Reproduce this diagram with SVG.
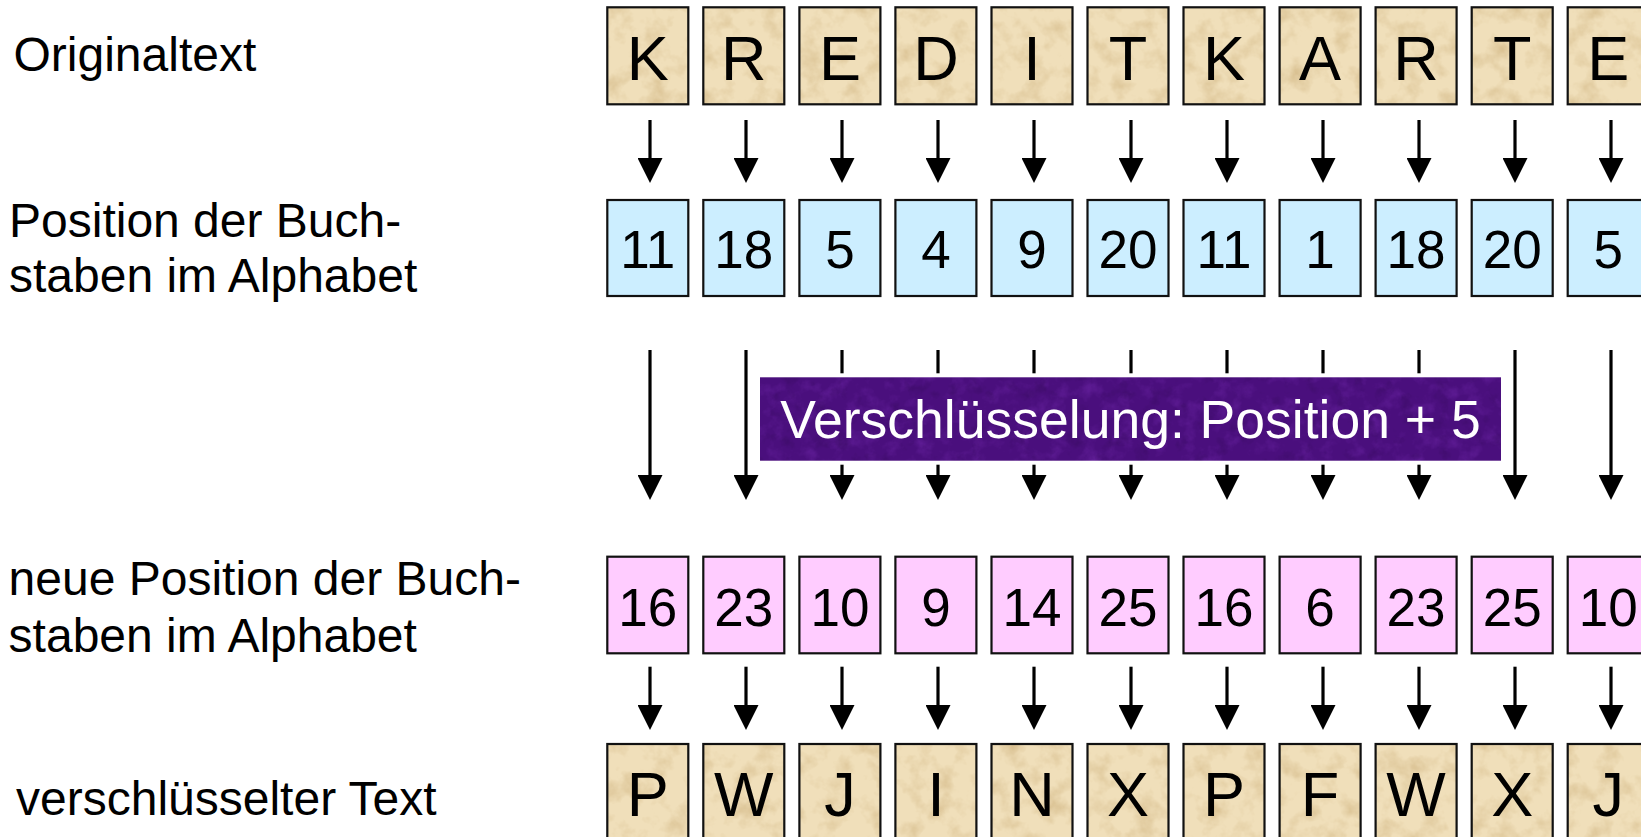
<svg xmlns="http://www.w3.org/2000/svg" width="1641" height="837" viewBox="0 0 1641 837">
<defs>
<style>
.lbl{font-family:"Liberation Sans",Arial,sans-serif;font-size:48px;fill:#000}
.big{font-family:"Liberation Sans",Arial,sans-serif;font-size:63px;fill:#000;text-anchor:middle}
.num{font-family:"Liberation Sans",Arial,sans-serif;font-size:53px;fill:#000;text-anchor:middle}
.tan{fill:#f0dfba;filter:url(#paper)}
.blue{fill:#cceeff}
.pink{fill:#ffccff}
.ol{fill:none;stroke:#111;stroke-width:2.2}
.arr{stroke:#000;stroke-width:3.2;fill:none;marker-end:url(#ah)}
.cap{font-family:"Liberation Sans",Arial,sans-serif;font-size:53.5px;fill:#fff;text-anchor:middle}
</style>
<marker id="ah" markerUnits="userSpaceOnUse" viewBox="0 0 25 25" refX="0.5" refY="12.5" markerWidth="25" markerHeight="25" orient="auto">
<path d="M0,0 L25,12.5 L0,25 z" fill="#000"/>
</marker>
<filter id="paper" x="0" y="0" width="100%" height="100%" color-interpolation-filters="sRGB">
<feTurbulence type="fractalNoise" baseFrequency="0.045" numOctaves="4" seed="7" result="n"/>
<feColorMatrix in="n" type="matrix" values="0 0 0 0 0.84  0 0 0 0 0.74  0 0 0 0 0.55  1.8 0 0 0 -0.82" result="spots"/>
<feComposite in="spots" in2="SourceGraphic" operator="atop"/>
</filter>
<filter id="velvet" x="0" y="0" width="100%" height="100%" color-interpolation-filters="sRGB">
<feTurbulence type="fractalNoise" baseFrequency="0.06" numOctaves="4" seed="11" result="n"/>
<feColorMatrix in="n" type="matrix" values="0 0 0 0 0.40  0 0 0 0 0.13  0 0 0 0 0.62  1.6 0 0 0 -0.78" result="light"/>
<feColorMatrix in="n" type="matrix" values="0 0 0 0 0.22  0 0 0 0 0.04  0 0 0 0 0.38  0 -1.6 0 0 0.7" result="dark"/>
<feComposite in="light" in2="SourceGraphic" operator="atop" result="a"/>
<feComposite in="dark" in2="a" operator="atop"/>
</filter>
</defs>
<rect x="0" y="0" width="1641" height="837" fill="#fff"/>

<g id="labels">
<text id="lbl-original" class="lbl" x="13.5" y="70.7">Originaltext</text>
<text id="lbl-position" class="lbl" x="9"><tspan x="9" y="236.7">Position der Buch-</tspan><tspan x="9" y="291.7">staben im Alphabet</tspan></text>
<text id="lbl-newpos" class="lbl" x="8.6"><tspan x="8.6" y="595">neue Position der Buch-</tspan><tspan x="8.6" y="651.7">staben im Alphabet</tspan></text>
<text id="lbl-cipher" class="lbl" x="16" y="815">verschlüsselter Text</text>
</g>

<g id="connectors">
<line class="arr" x1="650" y1="120" x2="650" y2="158.5"/>
<line class="arr" x1="746" y1="120" x2="746" y2="158.5"/>
<line class="arr" x1="842" y1="120" x2="842" y2="158.5"/>
<line class="arr" x1="938" y1="120" x2="938" y2="158.5"/>
<line class="arr" x1="1034" y1="120" x2="1034" y2="158.5"/>
<line class="arr" x1="1131" y1="120" x2="1131" y2="158.5"/>
<line class="arr" x1="1227" y1="120" x2="1227" y2="158.5"/>
<line class="arr" x1="1323" y1="120" x2="1323" y2="158.5"/>
<line class="arr" x1="1419" y1="120" x2="1419" y2="158.5"/>
<line class="arr" x1="1515" y1="120" x2="1515" y2="158.5"/>
<line class="arr" x1="1611" y1="120" x2="1611" y2="158.5"/>

<line class="arr" x1="650" y1="350" x2="650" y2="475.5"/>
<line class="arr" x1="746" y1="350" x2="746" y2="475.5"/>
<line class="arr" x1="842" y1="350" x2="842" y2="475.5"/>
<line class="arr" x1="938" y1="350" x2="938" y2="475.5"/>
<line class="arr" x1="1034" y1="350" x2="1034" y2="475.5"/>
<line class="arr" x1="1131" y1="350" x2="1131" y2="475.5"/>
<line class="arr" x1="1227" y1="350" x2="1227" y2="475.5"/>
<line class="arr" x1="1323" y1="350" x2="1323" y2="475.5"/>
<line class="arr" x1="1419" y1="350" x2="1419" y2="475.5"/>
<line class="arr" x1="1515" y1="350" x2="1515" y2="475.5"/>
<line class="arr" x1="1611" y1="350" x2="1611" y2="475.5"/>

<line class="arr" x1="650" y1="666.7" x2="650" y2="705.5"/>
<line class="arr" x1="746" y1="666.7" x2="746" y2="705.5"/>
<line class="arr" x1="842" y1="666.7" x2="842" y2="705.5"/>
<line class="arr" x1="938" y1="666.7" x2="938" y2="705.5"/>
<line class="arr" x1="1034" y1="666.7" x2="1034" y2="705.5"/>
<line class="arr" x1="1131" y1="666.7" x2="1131" y2="705.5"/>
<line class="arr" x1="1227" y1="666.7" x2="1227" y2="705.5"/>
<line class="arr" x1="1323" y1="666.7" x2="1323" y2="705.5"/>
<line class="arr" x1="1419" y1="666.7" x2="1419" y2="705.5"/>
<line class="arr" x1="1515" y1="666.7" x2="1515" y2="705.5"/>
<line class="arr" x1="1611" y1="666.7" x2="1611" y2="705.5"/>
</g>

<g id="row-original">
<g id="o0"><rect class="tan" x="607.3" y="7.3" width="81" height="97"/><rect class="ol" x="607.3" y="7.3" width="81" height="97"/><text class="big" x="647.8" y="80">K</text></g>
<g id="o1"><rect class="tan" x="703.3" y="7.3" width="81" height="97"/><rect class="ol" x="703.3" y="7.3" width="81" height="97"/><text class="big" x="743.8" y="80">R</text></g>
<g id="o2"><rect class="tan" x="799.4" y="7.3" width="81" height="97"/><rect class="ol" x="799.4" y="7.3" width="81" height="97"/><text class="big" x="839.9" y="80">E</text></g>
<g id="o3"><rect class="tan" x="895.4" y="7.3" width="81" height="97"/><rect class="ol" x="895.4" y="7.3" width="81" height="97"/><text class="big" x="935.9" y="80">D</text></g>
<g id="o4"><rect class="tan" x="991.5" y="7.3" width="81" height="97"/><rect class="ol" x="991.5" y="7.3" width="81" height="97"/><text class="big" x="1032" y="80">I</text></g>
<g id="o5"><rect class="tan" x="1087.5" y="7.3" width="81" height="97"/><rect class="ol" x="1087.5" y="7.3" width="81" height="97"/><text class="big" x="1128" y="80">T</text></g>
<g id="o6"><rect class="tan" x="1183.5" y="7.3" width="81" height="97"/><rect class="ol" x="1183.5" y="7.3" width="81" height="97"/><text class="big" x="1224" y="80">K</text></g>
<g id="o7"><rect class="tan" x="1279.6" y="7.3" width="81" height="97"/><rect class="ol" x="1279.6" y="7.3" width="81" height="97"/><text class="big" x="1320.1" y="80">A</text></g>
<g id="o8"><rect class="tan" x="1375.6" y="7.3" width="81" height="97"/><rect class="ol" x="1375.6" y="7.3" width="81" height="97"/><text class="big" x="1416.1" y="80">R</text></g>
<g id="o9"><rect class="tan" x="1471.7" y="7.3" width="81" height="97"/><rect class="ol" x="1471.7" y="7.3" width="81" height="97"/><text class="big" x="1512.2" y="80">T</text></g>
<g id="o10"><rect class="tan" x="1567.7" y="7.3" width="81" height="97"/><rect class="ol" x="1567.7" y="7.3" width="81" height="97"/><text class="big" x="1608.2" y="80">E</text></g>
</g>

<g id="row-position">
<g id="p0"><rect class="blue" x="607.3" y="200" width="81" height="96"/><rect class="ol" x="607.3" y="200" width="81" height="96"/><text class="num" x="647.8" y="268">11</text></g>
<g id="p1"><rect class="blue" x="703.3" y="200" width="81" height="96"/><rect class="ol" x="703.3" y="200" width="81" height="96"/><text class="num" x="743.8" y="268">18</text></g>
<g id="p2"><rect class="blue" x="799.4" y="200" width="81" height="96"/><rect class="ol" x="799.4" y="200" width="81" height="96"/><text class="num" x="839.9" y="268">5</text></g>
<g id="p3"><rect class="blue" x="895.4" y="200" width="81" height="96"/><rect class="ol" x="895.4" y="200" width="81" height="96"/><text class="num" x="935.9" y="268">4</text></g>
<g id="p4"><rect class="blue" x="991.5" y="200" width="81" height="96"/><rect class="ol" x="991.5" y="200" width="81" height="96"/><text class="num" x="1032" y="268">9</text></g>
<g id="p5"><rect class="blue" x="1087.5" y="200" width="81" height="96"/><rect class="ol" x="1087.5" y="200" width="81" height="96"/><text class="num" x="1128" y="268">20</text></g>
<g id="p6"><rect class="blue" x="1183.5" y="200" width="81" height="96"/><rect class="ol" x="1183.5" y="200" width="81" height="96"/><text class="num" x="1224" y="268">11</text></g>
<g id="p7"><rect class="blue" x="1279.6" y="200" width="81" height="96"/><rect class="ol" x="1279.6" y="200" width="81" height="96"/><text class="num" x="1320.1" y="268">1</text></g>
<g id="p8"><rect class="blue" x="1375.6" y="200" width="81" height="96"/><rect class="ol" x="1375.6" y="200" width="81" height="96"/><text class="num" x="1416.1" y="268">18</text></g>
<g id="p9"><rect class="blue" x="1471.7" y="200" width="81" height="96"/><rect class="ol" x="1471.7" y="200" width="81" height="96"/><text class="num" x="1512.2" y="268">20</text></g>
<g id="p10"><rect class="blue" x="1567.7" y="200" width="81" height="96"/><rect class="ol" x="1567.7" y="200" width="81" height="96"/><text class="num" x="1608.2" y="268">5</text></g>
</g>

<g id="shift-box">
<rect x="756" y="373.3" width="749" height="91.4" fill="#fff"/>
<rect x="760" y="377.3" width="741" height="83.4" fill="#4a0f7d" filter="url(#velvet)"/>
<text class="cap" x="1130.5" y="438.3">Verschlüsselung: Position + 5</text>
</g>

<g id="row-newpos">
<g id="n0"><rect class="pink" x="607.3" y="556.7" width="81" height="96.6"/><rect class="ol" x="607.3" y="556.7" width="81" height="96.6"/><text class="num" x="647.8" y="626">16</text></g>
<g id="n1"><rect class="pink" x="703.3" y="556.7" width="81" height="96.6"/><rect class="ol" x="703.3" y="556.7" width="81" height="96.6"/><text class="num" x="743.8" y="626">23</text></g>
<g id="n2"><rect class="pink" x="799.4" y="556.7" width="81" height="96.6"/><rect class="ol" x="799.4" y="556.7" width="81" height="96.6"/><text class="num" x="839.9" y="626">10</text></g>
<g id="n3"><rect class="pink" x="895.4" y="556.7" width="81" height="96.6"/><rect class="ol" x="895.4" y="556.7" width="81" height="96.6"/><text class="num" x="935.9" y="626">9</text></g>
<g id="n4"><rect class="pink" x="991.5" y="556.7" width="81" height="96.6"/><rect class="ol" x="991.5" y="556.7" width="81" height="96.6"/><text class="num" x="1032" y="626">14</text></g>
<g id="n5"><rect class="pink" x="1087.5" y="556.7" width="81" height="96.6"/><rect class="ol" x="1087.5" y="556.7" width="81" height="96.6"/><text class="num" x="1128" y="626">25</text></g>
<g id="n6"><rect class="pink" x="1183.5" y="556.7" width="81" height="96.6"/><rect class="ol" x="1183.5" y="556.7" width="81" height="96.6"/><text class="num" x="1224" y="626">16</text></g>
<g id="n7"><rect class="pink" x="1279.6" y="556.7" width="81" height="96.6"/><rect class="ol" x="1279.6" y="556.7" width="81" height="96.6"/><text class="num" x="1320.1" y="626">6</text></g>
<g id="n8"><rect class="pink" x="1375.6" y="556.7" width="81" height="96.6"/><rect class="ol" x="1375.6" y="556.7" width="81" height="96.6"/><text class="num" x="1416.1" y="626">23</text></g>
<g id="n9"><rect class="pink" x="1471.7" y="556.7" width="81" height="96.6"/><rect class="ol" x="1471.7" y="556.7" width="81" height="96.6"/><text class="num" x="1512.2" y="626">25</text></g>
<g id="n10"><rect class="pink" x="1567.7" y="556.7" width="81" height="96.6"/><rect class="ol" x="1567.7" y="556.7" width="81" height="96.6"/><text class="num" x="1608.2" y="626">10</text></g>
</g>

<g id="row-cipher">
<g id="c0"><rect class="tan" x="607.3" y="744" width="81" height="97"/><rect class="ol" x="607.3" y="744" width="81" height="97"/><text class="big" x="647.8" y="816">P</text></g>
<g id="c1"><rect class="tan" x="703.3" y="744" width="81" height="97"/><rect class="ol" x="703.3" y="744" width="81" height="97"/><text class="big" x="743.8" y="816">W</text></g>
<g id="c2"><rect class="tan" x="799.4" y="744" width="81" height="97"/><rect class="ol" x="799.4" y="744" width="81" height="97"/><text class="big" x="839.9" y="816">J</text></g>
<g id="c3"><rect class="tan" x="895.4" y="744" width="81" height="97"/><rect class="ol" x="895.4" y="744" width="81" height="97"/><text class="big" x="935.9" y="816">I</text></g>
<g id="c4"><rect class="tan" x="991.5" y="744" width="81" height="97"/><rect class="ol" x="991.5" y="744" width="81" height="97"/><text class="big" x="1032" y="816">N</text></g>
<g id="c5"><rect class="tan" x="1087.5" y="744" width="81" height="97"/><rect class="ol" x="1087.5" y="744" width="81" height="97"/><text class="big" x="1128" y="816">X</text></g>
<g id="c6"><rect class="tan" x="1183.5" y="744" width="81" height="97"/><rect class="ol" x="1183.5" y="744" width="81" height="97"/><text class="big" x="1224" y="816">P</text></g>
<g id="c7"><rect class="tan" x="1279.6" y="744" width="81" height="97"/><rect class="ol" x="1279.6" y="744" width="81" height="97"/><text class="big" x="1320.1" y="816">F</text></g>
<g id="c8"><rect class="tan" x="1375.6" y="744" width="81" height="97"/><rect class="ol" x="1375.6" y="744" width="81" height="97"/><text class="big" x="1416.1" y="816">W</text></g>
<g id="c9"><rect class="tan" x="1471.7" y="744" width="81" height="97"/><rect class="ol" x="1471.7" y="744" width="81" height="97"/><text class="big" x="1512.2" y="816">X</text></g>
<g id="c10"><rect class="tan" x="1567.7" y="744" width="81" height="97"/><rect class="ol" x="1567.7" y="744" width="81" height="97"/><text class="big" x="1608.2" y="816">J</text></g>
</g>
</svg>
